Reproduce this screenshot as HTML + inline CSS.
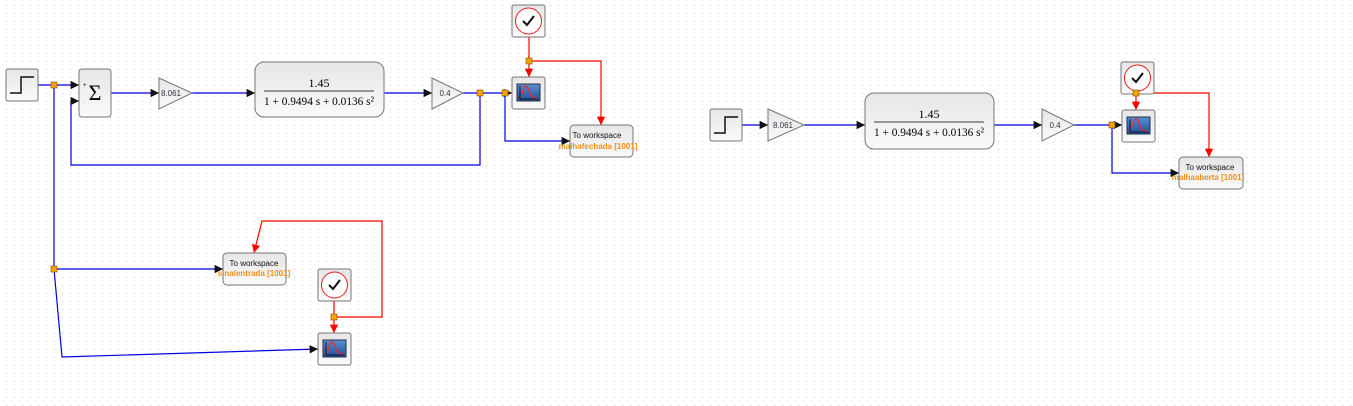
<!DOCTYPE html>
<html><head><meta charset="utf-8"><style>
html,body{margin:0;padding:0;width:1353px;height:406px;overflow:hidden;background:#fff}
svg{display:block}
text{font-family:"Liberation Sans",sans-serif}
text.s{font-family:"Liberation Serif",serif}
</style></head><body>
<svg width="1353" height="406" viewBox="0 0 1353 406" xmlns="http://www.w3.org/2000/svg">
<defs>
<pattern id="g" x="6" y="5" width="8" height="8" patternUnits="userSpaceOnUse"><rect width="1" height="1" fill="#c4c4c4"/></pattern>
<linearGradient id="bg" x1="0" y1="0" x2="0" y2="1"><stop offset="0" stop-color="#e6e6e6"/><stop offset="1" stop-color="#fafafa"/></linearGradient>
<linearGradient id="sc" x1="0" y1="0" x2="0" y2="1"><stop offset="0" stop-color="#5b8fd0"/><stop offset="1" stop-color="#1d4f9a"/></linearGradient>
<marker id="ab" viewBox="0 0 10 10" refX="10" refY="5" markerWidth="7" markerHeight="7" orient="auto"><path d="M0,0L10,5L0,10z" fill="#111"/></marker>
<marker id="ar" viewBox="0 0 10 10" refX="10" refY="5" markerWidth="7" markerHeight="7" orient="auto"><path d="M0,0L10,5L0,10z" fill="#f00"/></marker>
<g id="clk"><rect x="0" y="0" width="33" height="32" rx="2" fill="url(#bg)" stroke="#777"/><ellipse cx="16.5" cy="16" rx="13" ry="13" fill="#fff" stroke="#e02020"/><path d="M11,16L15,20L22,11" fill="none" stroke="#111" stroke-width="2"/></g>
<g id="scp"><rect x="0" y="0" width="33" height="32" rx="2" fill="url(#bg)" stroke="#777"/><rect x="5" y="7" width="23" height="17" fill="url(#sc)" stroke="#234"/><path d="M8,22L8,9M8,22L26,22" stroke="#000" stroke-width="0.8"/><path d="M9,21C12,6 15,6 18,16C20,21 22,21 25,21" fill="none" stroke="#f22" stroke-width="1.2"/></g>
<g id="stp"><rect x="0" y="0" width="32" height="32" rx="2" fill="url(#bg)" stroke="#777"/><path d="M4,24L15,24L15,8L28,8" fill="none" stroke="#111" stroke-width="1.5"/></g>
</defs>
<rect width="1353" height="406" fill="url(#g)"/>

<!-- LEFT -->
<g fill="none" stroke="#0000e6" stroke-width="1.2">
<path d="M38,85L79,85" marker-end="url(#ab)"/>
<path d="M111,93L159,93" marker-end="url(#ab)"/>
<path d="M192,93L255,93" marker-end="url(#ab)"/>
<path d="M384,93L432,93" marker-end="url(#ab)"/>
<path d="M463,93L512,93" marker-end="url(#ab)"/>
<path d="M480,93L480,165L71,165L71,101L79,101" marker-end="url(#ab)"/>
<path d="M505,93L505,141L570,141" marker-end="url(#ab)"/>
<path d="M54,85L54,269L223,269" marker-end="url(#ab)"/>
<path d="M54,269L62,357L318,349" marker-end="url(#ab)"/>
</g>
<g fill="none" stroke="#f00" stroke-width="1.2">
<path d="M529,37L529,77" marker-end="url(#ar)"/>
<path d="M529,61L601,61L601,125" marker-end="url(#ar)"/>
<path d="M334,301L334,333" marker-end="url(#ar)"/>
<path d="M334,317L382,317L382,221L262,221L254,253" marker-end="url(#ar)"/>
</g>
<use href="#stp" x="6" y="69"/>
<rect x="79" y="69" width="32" height="48" rx="3" fill="url(#bg)" stroke="#777"/>
<text class="s" x="95" y="100" font-size="22" text-anchor="middle">Σ</text>
<text x="83" y="87" font-size="6">+</text><text x="83" y="104" font-size="6" fill="#888">-</text>
<path d="M159,78L192,93L159,109z" fill="url(#bg)" stroke="#777"/>
<text x="171" y="96" font-size="8" text-anchor="middle" fill="#334">8.061</text>
<rect x="255" y="62" width="129" height="55" rx="9" fill="url(#bg)" stroke="#777"/>
<text class="s" x="319" y="87" font-size="12" text-anchor="middle">1.45</text>
<line x1="264" y1="91" x2="374" y2="91" stroke="#000" stroke-width="0.8"/>
<text class="s" x="264" y="105" font-size="12" textLength="110" lengthAdjust="spacingAndGlyphs">1 + 0.9494 s + 0.0136 s²</text>
<path d="M432,78L463,93L432,109z" fill="url(#bg)" stroke="#777"/>
<text x="445" y="96" font-size="8" text-anchor="middle" fill="#334">0.4</text>
<use href="#scp" x="512" y="77"/>
<use href="#clk" x="512" y="5"/>
<rect x="570" y="125" width="63" height="32" rx="4" fill="url(#bg)" stroke="#777"/>
<text x="597" y="138" font-size="8" text-anchor="middle" fill="#111">To workspace</text>
<text x="598" y="149" font-size="8" text-anchor="middle" fill="#f39019" font-weight="bold">malhafechada [1001]</text>
<rect x="223" y="253" width="63" height="32" rx="4" fill="url(#bg)" stroke="#777"/>
<text x="254" y="266" font-size="8" text-anchor="middle" fill="#111">To workspace</text>
<text x="254" y="276" font-size="8" text-anchor="middle" fill="#f39019" font-weight="bold">sinalentrada [1001]</text>
<use href="#clk" x="318" y="269"/>
<use href="#scp" x="318" y="333"/>
<g fill="#f5a200" stroke="#7a5000" stroke-width="0.6">
<rect x="51" y="82" width="6" height="6"/><rect x="477" y="90" width="6" height="6"/><rect x="502" y="90" width="6" height="6"/>
<rect x="526" y="58" width="6" height="6"/><rect x="51" y="266" width="6" height="6"/><rect x="331" y="314" width="6" height="6"/>
</g>

<!-- RIGHT -->
<g fill="none" stroke="#0000e6" stroke-width="1.2">
<path d="M742,125L768,125" marker-end="url(#ab)"/>
<path d="M804,125L865,125" marker-end="url(#ab)"/>
<path d="M994,125L1042,125" marker-end="url(#ab)"/>
<path d="M1074,125L1122,125" marker-end="url(#ab)"/>
<path d="M1112,125L1112,173L1179,173" marker-end="url(#ab)"/>
</g>
<g fill="none" stroke="#f00" stroke-width="1.2">
<path d="M1136,94L1136,110" marker-end="url(#ar)"/>
<path d="M1136,93L1209,93L1209,157" marker-end="url(#ar)"/>
</g>
<use href="#stp" x="710" y="109"/>
<path d="M768,109L804,125L768,141z" fill="url(#bg)" stroke="#777"/>
<text x="783" y="128" font-size="8" text-anchor="middle" fill="#334">8.061</text>
<rect x="865" y="93" width="129" height="56" rx="9" fill="url(#bg)" stroke="#777"/>
<text class="s" x="929" y="118" font-size="12" text-anchor="middle">1.45</text>
<line x1="874" y1="122" x2="984" y2="122" stroke="#000" stroke-width="0.8"/>
<text class="s" x="874" y="136" font-size="12" textLength="110" lengthAdjust="spacingAndGlyphs">1 + 0.9494 s + 0.0136 s²</text>
<path d="M1042,109L1074,125L1042,141z" fill="url(#bg)" stroke="#777"/>
<text x="1055" y="128" font-size="8" text-anchor="middle" fill="#334">0.4</text>
<use href="#scp" x="1122" y="110"/>
<use href="#clk" x="1121" y="62"/>
<rect x="1179" y="157" width="64" height="32" rx="4" fill="url(#bg)" stroke="#777"/>
<text x="1210" y="170" font-size="8" text-anchor="middle" fill="#111">To workspace</text>
<text x="1208" y="180" font-size="8" text-anchor="middle" fill="#f39019" font-weight="bold">malhaaberta [1001]</text>
<g fill="#f5a200" stroke="#7a5000" stroke-width="0.6">
<rect x="1109" y="122" width="6" height="6"/><rect x="1133" y="90" width="6" height="6"/>
</g>
</svg>
</body></html>
